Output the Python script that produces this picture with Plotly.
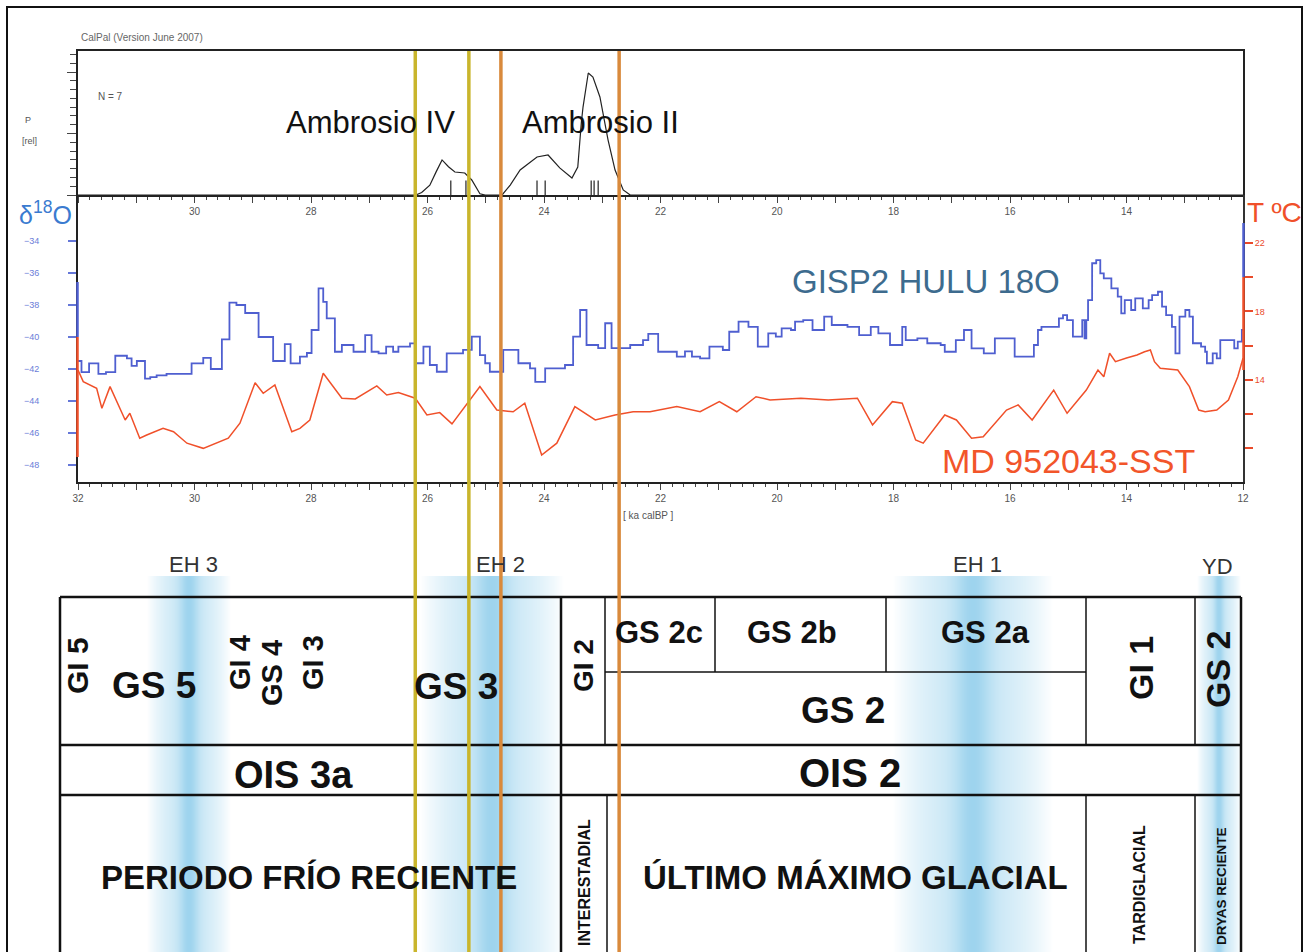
import math
import plotly.graph_objects as go

# ---------------- data ----------------
# CalPal summed calibrated probability (Ambrosio IV / Ambrosio II), ka calBP vs P[rel]
dens_t = [32.0, 26.20, 26.10, 25.96, 25.85, 25.75, 25.64, 25.53, 25.36, 25.24, 25.10, 25.01,
          24.72, 24.58, 24.41, 24.12, 23.93, 23.73, 23.52, 23.42, 23.36, 23.33, 23.24, 23.16,
          23.04, 22.90, 22.78, 22.64, 22.52, 12.0]
dens_p = [0, 0, 0.02, 0.08, 0.19, 0.285, 0.23, 0.187, 0.179, 0.122, 0.01, 0,
          0, 0.081, 0.203, 0.309, 0.325, 0.22, 0.138, 0.228, 0.583, 0.715, 0.992, 0.959,
          0.797, 0.447, 0.203, 0.041, 0, 0]
# individual calibrated dates (N = 7)
date_t = [25.60, 25.34, 24.12, 23.98, 23.19, 23.14, 23.07]

# GISP2 HULU d18O (step series)
gisp_t = [32.00, 31.94, 31.81, 31.65, 31.52, 31.36, 31.16, 31.08, 30.99, 30.85, 30.76, 30.65,
          30.48, 30.05, 29.85, 29.72, 29.53, 29.40, 29.28, 29.13, 28.90, 28.65, 28.45, 28.35,
          28.19, 28.07, 27.99, 27.87, 27.79, 27.73, 27.59, 27.47, 27.27, 27.07, 26.96, 26.84,
          26.71, 26.59, 26.50, 26.30, 26.21, 26.07, 25.96, 25.84, 25.67, 25.39, 25.24, 25.10,
          25.01, 24.93, 24.70, 24.44, 24.24, 24.15, 23.98, 23.64, 23.50, 23.38, 23.27, 23.07,
          22.95, 22.84, 22.52, 22.30, 22.21, 22.04, 21.72, 21.58, 21.46, 21.32, 21.16, 20.93,
          20.82, 20.66, 20.49, 20.33, 20.15, 20.02, 19.92, 19.76, 19.69, 19.55, 19.39, 19.19,
          19.06, 18.79, 18.59, 18.39, 18.26, 18.06, 17.85, 17.79, 17.59, 17.42, 17.19, 17.12,
          16.93, 16.79, 16.66, 16.45, 16.26, 16.05, 15.92, 15.79, 15.59, 15.52, 15.46, 15.16,
          15.09, 15.02, 14.92, 14.76, 14.72, 14.69, 14.66, 14.59, 14.52, 14.45, 14.39, 14.26,
          14.15, 14.09, 14.03, 13.92, 13.85, 13.72, 13.62, 13.56, 13.46, 13.39, 13.32, 13.22,
          13.16, 13.09, 12.99, 12.92, 12.86, 12.72, 12.65, 12.62, 12.52, 12.45, 12.39, 12.26,
          12.15, 12.09, 12.02, 12.00]
gisp_d18o = [-41.5, -42.2, -41.65, -42.3, -42.2, -41.17, -41.33, -41.8, -41.5, -42.6, -42.5, -42.4,
             -42.3, -41.65, -41.3, -42.0, -40.15, -37.85, -38.0, -38.5, -40.0, -41.5, -40.45, -41.65,
             -41.23, -41.0, -39.56, -36.96, -37.8, -38.83, -40.92, -40.5, -40.92, -39.88, -40.92, -41.02,
             -40.6, -40.92, -40.6, -40.4, -41.64, -40.6, -41.75, -42.17, -41.02, -40.8, -39.98, -41.13,
             -41.64, -42.17, -40.8, -41.64, -41.96, -42.8, -41.96, -41.75, -39.98, -38.31, -40.5, -40.7,
             -39.14, -40.7, -40.5, -40.19, -39.8, -40.92, -41.23, -40.9, -41.23, -41.33, -40.6, -40.81,
             -39.67, -39.04, -39.36, -40.6, -39.77, -39.98, -39.46, -39.56, -39.04, -38.94, -39.56, -38.73,
             -39.25, -39.36, -39.88, -39.36, -39.77, -40.5, -39.36, -40.19, -40.08, -40.39, -40.5, -40.92,
             -40.19, -39.56, -40.71, -41.02, -40.08, -40.08, -41.23, -41.23, -40.5, -39.56, -39.36, -38.83,
             -38.63, -38.94, -39.98, -38.94, -40.08, -38.94, -37.69, -35.39, -35.19, -36.02, -36.33, -36.96,
             -37.48, -38.52, -37.69, -38.31, -37.58, -38.21, -37.69, -37.38, -37.17, -38.1, -38.63, -39.36,
             -41.02, -38.73, -38.31, -38.73, -40.39, -40.6, -40.92, -41.64, -41.02, -41.33, -40.19, -40.19,
             -40.71, -40.29, -39.56, -39.56]

# MD 95-2043 SST (deg C)
sst_t = [32.00, 31.91, 31.68, 31.59, 31.45, 31.19, 31.11, 30.94, 30.82, 30.54, 30.36, 30.13,
         29.85, 29.62, 29.42, 29.22, 28.96, 28.82, 28.62, 28.33, 28.19, 28.02, 27.79, 27.47,
         27.24, 26.87, 26.70, 26.50, 26.21, 26.01, 25.79, 25.58, 25.33, 25.10, 24.81, 24.53,
         24.33, 24.04, 23.78, 23.47, 23.12, 22.78, 22.47, 22.18, 21.72, 21.32, 20.99, 20.69,
         20.36, 20.12, 19.59, 19.12, 18.62, 18.36, 18.02, 17.85, 17.62, 17.49, 17.12, 16.92,
         16.66, 16.46, 16.06, 15.86, 15.62, 15.25, 15.02, 14.69, 14.49, 14.39, 14.29, 14.19,
         14.00, 13.82, 13.69, 13.59, 13.52, 13.42, 13.12, 12.92, 12.76, 12.65, 12.45, 12.25,
         12.09, 12.00]
sst_T = [14.57, 13.89, 13.50, 12.33, 13.60, 11.65, 12.04, 10.58, 10.77, 11.16, 10.96, 10.29,
         9.99, 10.29, 10.58, 11.46, 13.83, 13.21, 13.70, 10.96, 11.16, 11.65, 14.38, 12.92,
         12.88, 13.64, 13.11, 13.25, 12.92, 11.94, 12.08, 11.42, 12.53, 13.60, 12.23, 12.13,
         12.63, 9.60, 10.29, 12.43, 11.65, 11.94, 12.13, 12.13, 12.43, 12.13, 12.72, 12.13,
         13.01, 12.82, 12.92, 12.82, 12.92, 11.36, 12.72, 12.63, 10.48, 10.29, 11.94, 11.65,
         10.58, 10.67, 12.23, 12.53, 11.65, 13.40, 12.04, 13.40, 14.57, 14.18, 15.55, 15.06,
         15.27, 15.45, 15.64, 15.74, 15.06, 14.67, 14.57, 13.60, 12.23, 12.13, 12.23, 12.82,
         14.18, 15.26]

# Ambrosio occupation boundaries (ka calBP)
ambrosio_iv_lines = [26.21, 25.29]
ambrosio_ii_lines = [24.74, 22.71]

d18o_ticks = [-34, -36, -38, -40, -42, -44, -46, -48]
temp_ticks = [10, 12, 14, 16, 18, 20, 22]
temp_labels = ["", "", "14", "", "18", "", "22"]
age_ticks = list(range(12, 33))

# ---------------- layout helpers ----------------
W, H = 1309, 952
def PX(x): return x / W
def PY(y): return 1 - y / H

SANS = "Liberation Sans, Arial, Helvetica, sans-serif"
BLUE = "#4f5fd0"
RED = "#f0502a"

fig = go.Figure()
fig.add_trace(go.Scatter(x=dens_t, y=dens_p, mode="lines", line=dict(color="#222", width=1.2),
                         xaxis="x", yaxis="y", hoverinfo="skip"))
fig.add_trace(go.Scatter(x=date_t, y=[0.05] * len(date_t), mode="markers",
                         marker=dict(symbol="line-ns-open", size=12, color="#222",
                                     line=dict(color="#222", width=1.2)),
                         xaxis="x", yaxis="y", hoverinfo="skip"))
fig.add_trace(go.Scatter(x=gisp_t, y=gisp_d18o, mode="lines", line_shape="hv",
                         line=dict(color=BLUE, width=1.8), xaxis="x2", yaxis="y2", hoverinfo="skip"))
fig.add_trace(go.Scatter(x=sst_t, y=sst_T, mode="lines", line=dict(color=RED, width=1.5),
                         xaxis="x2", yaxis="y3", hoverinfo="skip"))

tickfont = dict(family=SANS, size=10, color="#555")
minor_x = dict(tickmode="linear", tick0=12, dtick=0.2, ticks="outside", ticklen=3,
               tickcolor="#444", tickwidth=1, showgrid=False)
xdom = [PX(78), PX(1243)]

shapes = []
annotations = []

def hline(y, x0, x1, w=2.5):
    shapes.append(dict(type="line", xref="paper", yref="paper", x0=PX(x0), x1=PX(x1),
                       y0=PY(y), y1=PY(y), line=dict(color="#111", width=w)))

def vline(x, y0, y1, w=2.5):
    shapes.append(dict(type="line", xref="paper", yref="paper", x0=PX(x), x1=PX(x),
                       y0=PY(y0), y1=PY(y1), line=dict(color="#111", width=w)))

def band(cx, hw, y0, y1):
    a = int(round(cx - hw))
    b = int(round(cx + hw))
    for x in range(a, b):
        d = (x + 0.5 - cx) / hw
        alpha = 0.5 * max(0.0, 1 - d * d) + 0.4 * math.exp(-(d / 0.22) ** 2)
        shapes.append(dict(type="rect", xref="paper", yref="paper", x0=PX(x), x1=PX(x + 1),
                           y0=PY(y1), y1=PY(y0), fillcolor=f"rgba(105,188,228,{alpha * 0.72:.3f})",
                           line=dict(width=0), layer="below"))

def txt(s, x, y, size, color="#111", angle=0, xanchor="center"):
    annotations.append(dict(text=s, x=PX(x), y=PY(y), xref="paper", yref="paper", showarrow=False,
                            font=dict(size=size, color=color, family=SANS), textangle=angle,
                            xanchor=xanchor, yanchor="middle"))

# blue gradient bands (EH 3, EH 2, EH 1, YD)
band(189, 42, 576, 955)
band(492, 72, 576, 955)
band(973, 80, 576, 955)
band(1219, 22, 576, 955)

# outer border
shapes.append(dict(type="rect", xref="paper", yref="paper", x0=PX(7), x1=PX(1302), y0=PY(975), y1=PY(7),
                   line=dict(color="#111", width=2)))

# table
hline(597, 60, 1241)
hline(745, 60, 1241)
hline(795, 60, 1241)
hline(672, 605, 1086, 1.5)
vline(60, 597, 960)
vline(1241, 597, 960)
vline(561, 597, 960)
vline(605, 597, 745, 1.5)
vline(607, 795, 960, 1.5)
vline(715, 597, 672, 1.5)
vline(886, 597, 672, 1.5)
vline(1086, 597, 745, 1.5)
vline(1086, 795, 960, 1.5)
vline(1195, 597, 745, 1.5)
vline(1195, 795, 960, 1.5)

# colored axis range segments
shapes.append(dict(type="line", xref="paper", yref="y2", x0=PX(77.5), x1=PX(77.5), y0=-36.56, y1=-40,
                   line=dict(color=BLUE, width=2.5)))
shapes.append(dict(type="line", xref="paper", yref="y2", x0=PX(77.5), x1=PX(77.5), y0=-40, y1=-47.5,
                   line=dict(color=RED, width=2.5)))
shapes.append(dict(type="line", xref="paper", yref="y3", x0=PX(1243.5), x1=PX(1243.5), y0=23.17, y1=20.01,
                   line=dict(color=BLUE, width=2.5)))
shapes.append(dict(type="line", xref="paper", yref="y3", x0=PX(1243.5), x1=PX(1243.5), y0=20.01, y1=14.57,
                   line=dict(color=RED, width=2.5)))

# occupation lines
for t in ambrosio_iv_lines:
    shapes.append(dict(type="line", xref="x", yref="paper", x0=t, x1=t, y0=PY(965), y1=PY(51),
                       line=dict(color="#c9b52c", width=3.5)))
for t in ambrosio_ii_lines:
    shapes.append(dict(type="line", xref="x", yref="paper", x0=t, x1=t, y0=PY(965), y1=PY(51),
                       line=dict(color="#d98a3c", width=3.5)))

# texts: top panel
txt("CalPal (Version June 2007)", 79, 38, 10, "#666", xanchor="left")
txt("N = 7", 96, 97, 10, "#555", xanchor="left")
txt("P", 28, 120, 9, "#555")
txt("[rel]", 29, 141, 9, "#555")
txt("Ambrosio IV", 370, 123, 31, "#111")
txt("Ambrosio II", 600, 123, 31, "#111")
# middle panel
txt("δ<sup>18</sup>O", 45, 213, 25, "#3a7bd0")
txt("T ºC", 1274, 213, 28, RED)
txt("GISP2 HULU 18O", 926, 281, 33, "#3d6b8e")
txt("MD 952043-SST", 1068, 461, 34, "#f2552a")
txt("[ ka calBP ]", 648, 515, 10, "#555")
# band labels
txt("EH 3", 193, 564, 22, "#333")
txt("EH 2", 500, 564, 22, "#333")
txt("EH 1", 977, 564, 22, "#333")
txt("YD", 1217, 566, 22, "#333")
# table row 1
txt("<b>GI 5</b>", 77, 666, 30, angle=-90)
txt("<b>GS 5</b>", 154, 685, 37)
txt("<b>GI 4</b>", 240, 663, 29, angle=-90)
txt("<b>GS 4</b>", 272, 673, 29, angle=-90)
txt("<b>GI 3</b>", 313, 663, 29, angle=-90)
txt("<b>GS 3</b>", 456, 686, 37)
txt("<b>GI 2</b>", 583, 666, 28, angle=-90)
txt("<b>GS 2c</b>", 659, 632, 31)
txt("<b>GS 2b</b>", 792, 632, 31)
txt("<b>GS 2a</b>", 985, 632, 31)
txt("<b>GS 2</b>", 843, 710, 37)
txt("<b>GI 1</b>", 1141, 668, 34, angle=-90)
txt("<b>GS 2</b>", 1218, 670, 34, angle=-90)
# row 2
txt("<b>OIS 3a</b>", 293, 775, 38)
txt("<b>OIS 2</b>", 850, 773, 40)
# row 3
txt("<b>PERIODO FRÍO RECIENTE</b>", 309, 877, 33)
txt("<b>ÚLTIMO MÁXIMO GLACIAL</b>", 855, 877, 33)
txt("<b>INTERESTADIAL</b>", 584, 883, 16, angle=-90)
txt("<b>TARDIGLACIAL</b>", 1139, 885, 16, angle=-90)
txt("<b>DRYAS RECIENTE</b>", 1221, 886, 13.5, angle=-90)

fig.update_layout(
    width=W, height=H, margin=dict(l=0, r=0, t=0, b=0, autoexpand=False),
    paper_bgcolor="white", plot_bgcolor="white", showlegend=False,
    xaxis=dict(domain=xdom, anchor="y", range=[32, 12], showgrid=False, zeroline=False,
               automargin=False,
               showline=True, linecolor="#222", linewidth=2, mirror=True,
               tickmode="array", tickvals=age_ticks,
               ticktext=[str(v) if (v % 2 == 0 and 12 < v < 32) else "" for v in age_ticks],
               ticks="outside", ticklen=6, tickcolor="#444", tickwidth=1.2, tickfont=tickfont,
               minor=minor_x),
    yaxis=dict(domain=[PY(195), PY(51)], anchor="x", range=[0, 144 / 123], showgrid=False,
               zeroline=False, showline=True, linecolor="#222", linewidth=2, mirror=True,
               automargin=False,
               tickmode="array", tickvals=[0, 0.5, 1.0], ticks="outside", ticklen=9,
               tickcolor="#444", showticklabels=False,
               minor=dict(tickmode="linear", tick0=0, dtick=0.5 / 7, ticks="outside", ticklen=6,
                          tickcolor="#444", showgrid=False)),
    xaxis2=dict(domain=xdom, anchor="y2", range=[32, 12], showgrid=False, zeroline=False,
                automargin=False,
                showline=True, linecolor="#222", linewidth=2,
                tickmode="array", tickvals=age_ticks,
                ticktext=[str(v) if v % 2 == 0 else "" for v in age_ticks],
                ticks="outside", ticklen=6, tickcolor="#444", tickwidth=1.2, tickfont=tickfont,
                minor=minor_x),
    yaxis2=dict(domain=[PY(482), PY(195)], anchor="x2", range=[-49.06, -31.125], showgrid=False,
                zeroline=False, showline=True, linecolor="#222", linewidth=2, automargin=False,
                tickmode="array", tickvals=d18o_ticks, ticks="outside", ticklen=8, tickwidth=1.5,
                tickcolor="#6577d8", ticklabelstandoff=27,
                tickfont=dict(family=SANS, size=9, color="#6b7dd8")),
    yaxis3=dict(overlaying="y2", anchor="x2", side="right", range=[8.02, 24.81], showgrid=False,
                zeroline=False, showline=True, linecolor="#333", linewidth=2, automargin=False,
                tickmode="array", tickvals=temp_ticks, ticktext=temp_labels, ticks="outside",
                ticklen=8, tickwidth=1.5, tickcolor="#ea4a2a",
                tickfont=dict(family=SANS, size=9, color="#ea4a2a")),
    shapes=shapes, annotations=annotations,
)

fig.write_html("out.html", config={"displayModeBar": False},
               post_script="document.body.style.margin='0px';document.body.style.overflow='hidden';")
